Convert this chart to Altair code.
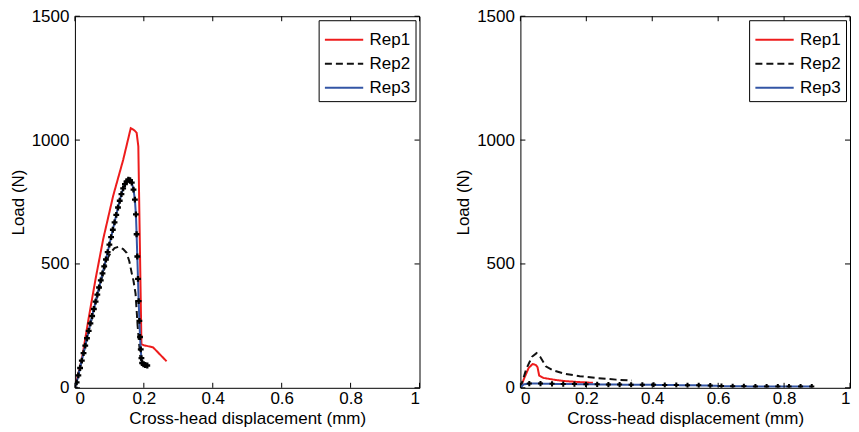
import altair as alt
import pandas as pd

series_names = ["Rep1", "Rep2", "Rep3"]
series_colors = ["#ee1c1c", "#111111", "#3355a5"]
series_dash = [[1, 0], [7, 4], [1, 0]]

x_ticks = [0, 0.2, 0.4, 0.6, 0.8, 1]
y_ticks = [0, 500, 1000, 1500]

# ---- left panel ----
l_rep1_d = [0, 0.02, 0.041, 0.06, 0.082, 0.111, 0.14, 0.162, 0.172, 0.179, 0.184, 0.193, 0.20, 0.227, 0.266]
l_rep1_L = [0, 115, 290, 440, 600, 775, 920, 1048, 1040, 1030, 975, 176, 172, 163, 107]

l_rep2_d = [0, 0.03, 0.06, 0.092, 0.105, 0.115, 0.126, 0.14, 0.15, 0.158, 0.165, 0.17, 0.176, 0.182, 0.19, 0.2]
l_rep2_L = [0, 170, 345, 516, 548, 564, 569, 560, 545, 510, 462, 432, 380, 250, 120, 90]

l_rep3_d = [0, 0.005, 0.01, 0.015, 0.02, 0.025, 0.03, 0.035, 0.04, 0.045, 0.05, 0.055,
            0.06, 0.065, 0.07, 0.075, 0.08, 0.085, 0.09, 0.095, 0.10, 0.105, 0.11, 0.115,
            0.12, 0.125, 0.13, 0.135, 0.14, 0.145, 0.15, 0.155, 0.16, 0.165, 0.17, 0.174,
            0.177, 0.179, 0.181, 0.183, 0.185, 0.187, 0.189, 0.191, 0.193, 0.195, 0.199,
            0.204, 0.21]
l_rep3_L = [0, 22, 50, 80, 110, 140, 170, 200, 230, 260, 290, 318,
            348, 376, 405, 434, 462, 490, 518, 548, 578, 608, 638, 668,
            698, 728, 755, 782, 805, 822, 833, 840, 838, 828, 800, 760,
            700, 620, 530, 440, 350, 270, 205, 155, 120, 100, 95,
            92, 90]

# ---- right panel ----
r_rep1_d = [0, 0.012, 0.025, 0.037, 0.047, 0.052, 0.057, 0.07, 0.087, 0.11, 0.136, 0.18, 0.22]
r_rep1_L = [0, 40, 80, 96, 92, 83, 49, 40, 36, 31, 27, 23, 20]

r_rep2_d = [0, 0.018, 0.035, 0.049, 0.06, 0.077, 0.10, 0.136, 0.18, 0.234, 0.29, 0.338]
r_rep2_L = [0, 76, 125, 140, 125, 87, 70, 56, 47, 39, 33, 29]

r_rep3_d = [0, 0.01, 0.027, 0.061, 0.096, 0.130, 0.164, 0.199, 0.233, 0.267, 0.301, 0.336,
            0.370, 0.404, 0.438, 0.473, 0.507, 0.541, 0.576, 0.610, 0.644, 0.678, 0.713,
            0.747, 0.781, 0.815, 0.850, 0.884]
r_rep3_L = [0, 14, 17, 17, 16, 15, 15, 14, 14, 13, 13, 12,
            12, 12, 11, 11, 10, 10, 9, 7, 6, 6, 5,
            5, 5, 5, 5, 5]
r_rep3_marker_start = 2

FONT = "Liberation Sans"
FS = 17
H = 372


def frame(series):
    rows = []
    for name, (ds, Ls) in zip(series_names, series):
        for i, (d, L) in enumerate(zip(ds, Ls)):
            rows.append({"rep": name, "d": d, "L": L, "idx": i})
    return pd.DataFrame(rows)


def panel(series, markers, W, msize):
    df = frame(series)
    mk = pd.DataFrame({"d": markers[0], "L": markers[1]})
    xt = pd.DataFrame({"d": x_ticks})
    yt = pd.DataFrame({"L": y_ticks})
    xs = alt.Scale(domain=[0, 1], nice=False)
    ys = alt.Scale(domain=[0, 1500], nice=False)
    legend = alt.Legend(
        title=None, orient="top-right", offset=4, padding=5,
        strokeColor="black", fillColor="white", symbolType="M-1,0H1.9",
        symbolSize=700, symbolStrokeWidth=2, labelFontSize=FS,
        labelFont=FONT, labelColor="black", rowPadding=1, labelOffset=17,
        cornerRadius=0,
    )
    lines = alt.Chart(df).mark_line(strokeWidth=2, clip=True).encode(
        x=alt.X("d:Q", scale=xs, axis=alt.Axis(values=x_ticks, format="~g",
                                             title="Cross-head displacement (mm)")),
        y=alt.Y("L:Q", scale=ys, axis=alt.Axis(values=y_ticks, format="d", title="Load (N)")),
        color=alt.Color("rep:N", scale=alt.Scale(domain=series_names, range=series_colors),
                        legend=legend),
        strokeDash=alt.StrokeDash("rep:N", scale=alt.Scale(domain=series_names, range=series_dash),
                                  legend=legend),
        order="idx:Q",
    )
    pts = alt.Chart(mk).mark_point(shape="cross", filled=True, size=msize, color="black",
                                   opacity=1, clip=True).encode(x="d:Q", y="L:Q")
    tb = alt.Chart(xt).mark_rule(color="black").encode(x="d:Q", y=alt.value(H), y2=alt.value(H - 5))
    tt = alt.Chart(xt).mark_rule(color="black").encode(x="d:Q", y=alt.value(0), y2=alt.value(5))
    tl = alt.Chart(yt).mark_rule(color="black").encode(y="L:Q", x=alt.value(0), x2=alt.value(5))
    tr = alt.Chart(yt).mark_rule(color="black").encode(y="L:Q", x=alt.value(W), x2=alt.value(W - 5))
    return alt.layer(lines, pts, tb, tt, tl, tr).properties(width=W, height=H)


left = panel(
    [(l_rep1_d, l_rep1_L), (l_rep2_d, l_rep2_L), (l_rep3_d, l_rep3_L)],
    (l_rep3_d, l_rep3_L), 345, 34)
right = panel(
    [(r_rep1_d, r_rep1_L), (r_rep2_d, r_rep2_L), (r_rep3_d, r_rep3_L)],
    (r_rep3_d[r_rep3_marker_start:], r_rep3_L[r_rep3_marker_start:]), 330, 26)

chart = alt.hconcat(left, right, spacing=33).resolve_legend(
    color="independent", strokeDash="independent"
).resolve_scale(color="independent", strokeDash="independent").properties(
    padding={"left": 0, "top": -2, "right": 0, "bottom": 0}
).configure_view(stroke="black", strokeWidth=1).configure_axis(
    domain=False, ticks=False, grid=False,
    labelFont=FONT, labelFontSize=FS, labelColor="black",
    titleFont=FONT, titleFontSize=FS, titleColor="black", titleFontWeight="normal",
).configure_axisX(labelPadding=3, titlePadding=4).configure_axisY(labelPadding=6, titlePadding=4)

chart.save("out.html", embed_options={"renderer": "svg", "actions": False})
